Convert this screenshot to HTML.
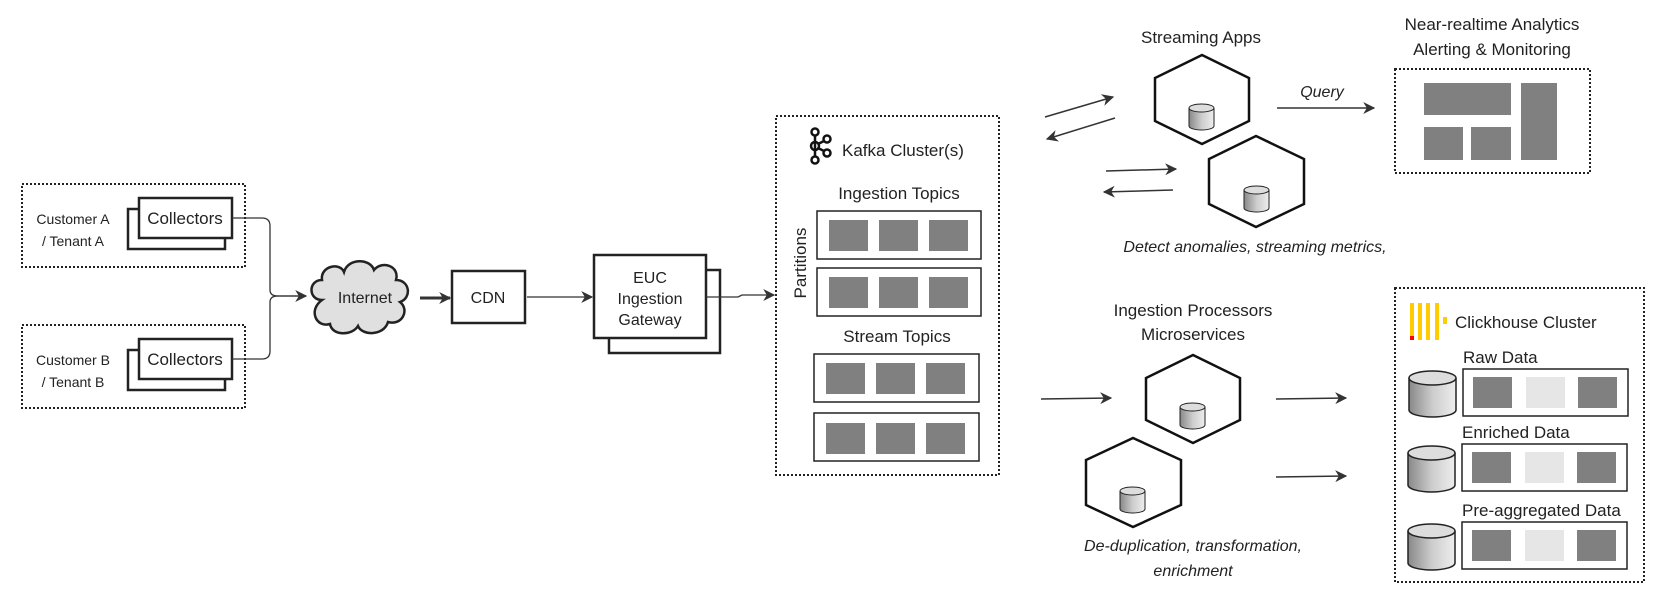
<!DOCTYPE html>
<html><head><meta charset="utf-8"><style>
html,body{margin:0;padding:0;background:#fff}
svg{display:block}
text{font-family:"Liberation Sans",sans-serif;fill:#222}
</style></head><body>
<svg width="1664" height="600" viewBox="0 0 1664 600" xmlns="http://www.w3.org/2000/svg">
<defs>
<marker id="ah" viewBox="0 0 10 10" refX="9" refY="5" markerWidth="9" markerHeight="9" markerUnits="userSpaceOnUse" orient="auto"><path d="M0,0 L10,5 L0,10 L3,5 z" fill="#333"/></marker>
<marker id="ah2" viewBox="0 0 10 10" refX="9" refY="5" markerWidth="12" markerHeight="12" markerUnits="userSpaceOnUse" orient="auto"><path d="M0,0 L10,5 L0,10 L3,5 z" fill="#333"/></marker>
<linearGradient id="cg" x1="0" x2="1"><stop offset="0" stop-color="#888"/><stop offset="0.5" stop-color="#ccc"/><stop offset="1" stop-color="#eee"/></linearGradient>
<g id="cyl"><path d="M0,4 v18 a12.5,4 0 0 0 25,0 v-18" fill="url(#cg)" stroke="#222" stroke-width="1"/><ellipse cx="12.5" cy="4" rx="12.5" ry="4" fill="#ddd" stroke="#222" stroke-width="1"/></g>
<g id="bcyl"><path d="M0,8 v32 a23.5,7 0 0 0 47,0 v-32" fill="url(#cg)" stroke="#222" stroke-width="1.5"/><ellipse cx="23.5" cy="8" rx="23.5" ry="7" fill="#ddd" stroke="#222" stroke-width="1.5"/></g>
</defs>
<g fill="none" stroke="#222" stroke-width="2" stroke-dasharray="2,2">
<rect x="22" y="184" width="223" height="83"/>
<rect x="22" y="325" width="223" height="83"/>
<rect x="776" y="116" width="223" height="359"/>
<rect x="1395" y="69" width="195" height="104"/>
<rect x="1395" y="288" width="249" height="294"/>
</g>
<text x="73" y="224" font-size="14" text-anchor="middle">Customer A</text>
<text x="73" y="246" font-size="14" text-anchor="middle">/ Tenant A</text>
<text x="73" y="365" font-size="14" text-anchor="middle">Customer B</text>
<text x="73" y="387" font-size="14" text-anchor="middle">/ Tenant B</text>
<g fill="#fff" stroke="#222" stroke-width="2.5">
<rect x="128" y="209" width="97" height="40"/><rect x="139" y="198" width="93" height="40"/>
<rect x="128" y="350" width="97" height="40"/><rect x="139" y="339" width="93" height="40"/>
<rect x="452" y="271" width="73" height="52"/>
<rect x="609" y="270" width="111" height="83"/><rect x="594" y="255" width="112" height="83"/>
</g>
<text x="185" y="224" font-size="17" text-anchor="middle">Collectors</text>
<text x="185" y="365" font-size="17" text-anchor="middle">Collectors</text>
<text x="488" y="303" font-size="16" text-anchor="middle">CDN</text>
<text x="650" y="283" font-size="16" text-anchor="middle">EUC</text>
<text x="650" y="304" font-size="16" text-anchor="middle">Ingestion</text>
<text x="650" y="325" font-size="16" text-anchor="middle">Gateway</text>
<path d="M322,300 c-14,0 -14,-20 0,-20 c-2,-14 18,-18 22,-8 c4,-14 26,-14 30,-2 c8,-10 26,-4 22,10 c14,0 16,18 4,22 c10,8 2,24 -12,20 c-4,14 -26,14 -30,4 c-6,10 -26,10 -28,-2 c-14,4 -22,-14 -8,-24z" fill="#e0e0e0" stroke="#222" stroke-width="2.5"/>
<text x="365" y="303" font-size="16" text-anchor="middle">Internet</text>
<g fill="none" stroke="#333" stroke-width="1.3">
<path d="M232,218 H262 q8,0 8,8 V290 q0,6 8,6 H306" marker-end="url(#ah2)"/>
<path d="M232,359 H262 q8,0 8,-8 V302 q0,-6 8,-6 H306"/>
<path d="M420,298 H450" stroke-width="3" marker-end="url(#ah2)"/>
<path d="M527,297 H592" marker-end="url(#ah2)"/>
<path d="M706,297 H738 L742,295 H774" marker-end="url(#ah2)"/>
<path d="M1045,117 L1113,97" stroke-width="1.5" marker-end="url(#ah2)"/>
<path d="M1115,118 L1047,139" stroke-width="1.5" marker-end="url(#ah2)"/>
<path d="M1106,171 L1176,169" stroke-width="1.5" marker-end="url(#ah2)"/>
<path d="M1173,190 L1104,192" stroke-width="1.5" marker-end="url(#ah2)"/>
<path d="M1277,108 L1374,108" stroke-width="1.5" marker-end="url(#ah2)"/>
<path d="M1041,399 L1111,398" stroke-width="1.5" marker-end="url(#ah2)"/>
<path d="M1276,399 L1346,398" stroke-width="1.5" marker-end="url(#ah2)"/>
<path d="M1276,477 L1346,476" stroke-width="1.5" marker-end="url(#ah2)"/>
</g>
<!-- Kafka -->
<g fill="none" stroke="#111" stroke-width="2.5">
<circle cx="815" cy="132" r="3.5"/><circle cx="815" cy="146" r="4"/><circle cx="815" cy="160" r="3.5"/>
<circle cx="827" cy="139" r="3.5"/><circle cx="827" cy="153" r="3.5"/>
<path d="M815,135.5 V156.5 M818,144 L824,141 M818,148 L824,151"/>
</g>
<text x="842" y="156" font-size="17">Kafka Cluster(s)</text>
<text x="899" y="199" font-size="17" text-anchor="middle">Ingestion Topics</text>
<text x="897" y="342" font-size="17" text-anchor="middle">Stream Topics</text>
<text transform="translate(806,263) rotate(-90)" font-size="17" text-anchor="middle">Partitions</text>
<g fill="#fff" stroke="#222" stroke-width="1.5">
<rect x="817" y="211" width="164" height="48"/><rect x="817" y="268" width="164" height="48"/>
<rect x="814" y="354" width="165" height="48"/><rect x="814" y="413" width="165" height="48"/>
<rect x="1463" y="369" width="165" height="47"/><rect x="1462" y="444" width="165" height="47"/><rect x="1462" y="522" width="165" height="47"/>
</g>
<g fill="#808080">
<rect x="829" y="220" width="39" height="31"/><rect x="879" y="220" width="39" height="31"/><rect x="929" y="220" width="39" height="31"/>
<rect x="829" y="277" width="39" height="31"/><rect x="879" y="277" width="39" height="31"/><rect x="929" y="277" width="39" height="31"/>
<rect x="826" y="363" width="39" height="31"/><rect x="876" y="363" width="39" height="31"/><rect x="926" y="363" width="39" height="31"/>
<rect x="826" y="423" width="39" height="31"/><rect x="876" y="423" width="39" height="31"/><rect x="926" y="423" width="39" height="31"/>
<rect x="1424" y="83" width="87" height="32"/><rect x="1521" y="83" width="36" height="77"/>
<rect x="1424" y="127" width="39" height="33"/><rect x="1471" y="127" width="40" height="33"/>
<rect x="1473" y="377" width="39" height="31"/><rect x="1578" y="377" width="39" height="31"/>
<rect x="1472" y="452" width="39" height="31"/><rect x="1577" y="452" width="39" height="31"/>
<rect x="1472" y="530" width="39" height="31"/><rect x="1577" y="530" width="39" height="31"/>
</g>
<g fill="#e6e6e6">
<rect x="1526" y="377" width="39" height="31"/><rect x="1525" y="452" width="39" height="31"/><rect x="1525" y="530" width="39" height="31"/>
</g>
<!-- hexagons -->
<g fill="#fff" stroke="#111" stroke-width="2.5">
<path d="M1202,55 L1249,78 L1249,121 L1202,144 L1155,121 L1155,78 Z"/>
<path d="M1256,136 L1304,159 L1304,204 L1256,227 L1209,204 L1209,159 Z"/>
<path d="M1193,355 L1240,378 L1240,420 L1193,443 L1146,420 L1146,378 Z"/>
<path d="M1133,438 L1181,460 L1181,505 L1133,527 L1086,505 L1086,460 Z"/>
</g>
<use href="#cyl" x="1189" y="104"/><use href="#cyl" x="1244" y="186"/>
<use href="#cyl" x="1180" y="403"/><use href="#cyl" x="1120" y="487"/>
<text x="1201" y="43" font-size="17" text-anchor="middle">Streaming Apps</text>
<text x="1322" y="97" font-size="16" font-style="italic" text-anchor="middle">Query</text>
<text x="1492" y="30" font-size="17" text-anchor="middle">Near-realtime Analytics</text>
<text x="1492" y="55" font-size="17" text-anchor="middle">Alerting &amp; Monitoring</text>
<text x="1255" y="252" font-size="16" font-style="italic" text-anchor="middle">Detect anomalies, streaming metrics,</text>
<text x="1193" y="316" font-size="17" text-anchor="middle">Ingestion Processors</text>
<text x="1193" y="340" font-size="17" text-anchor="middle">Microservices</text>
<text x="1193" y="551" font-size="16" font-style="italic" text-anchor="middle">De-duplication, transformation,</text>
<text x="1193" y="576" font-size="16" font-style="italic" text-anchor="middle">enrichment</text>
<!-- Clickhouse -->
<g fill="#fc0">
<rect x="1410" y="303" width="4" height="37"/><rect x="1418" y="303" width="4" height="37"/><rect x="1426" y="303" width="4" height="37"/><rect x="1435" y="303" width="4" height="37"/><rect x="1443" y="317" width="4" height="7"/>
</g>
<rect x="1410" y="336" width="4" height="4" fill="#f00"/>
<text x="1455" y="328" font-size="17">Clickhouse Cluster</text>
<text x="1463" y="363" font-size="17">Raw Data</text>
<text x="1462" y="438" font-size="17">Enriched Data</text>
<text x="1462" y="516" font-size="17">Pre-aggregated Data</text>
<use href="#bcyl" x="1409" y="370"/><use href="#bcyl" x="1408" y="445"/><use href="#bcyl" x="1408" y="523"/>
</svg>
</body></html>
